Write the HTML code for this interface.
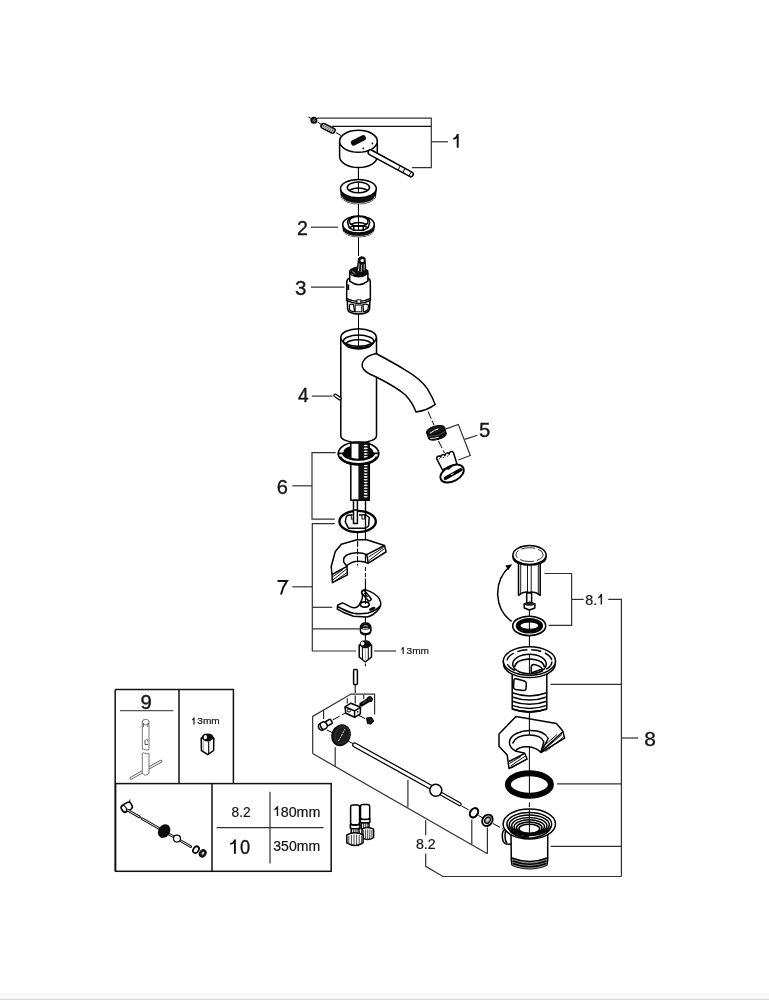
<!DOCTYPE html>
<html><head><meta charset="utf-8">
<style>
html,body{margin:0;padding:0;background:#fff;}
body{width:769px;height:1000px;overflow:hidden;position:relative;}
svg{position:absolute;left:0;top:0;}
.o{fill:#fff;stroke:#000;stroke-width:1.5;stroke-linejoin:round;}
.n{fill:none;stroke:#000;stroke-width:1.5;stroke-linejoin:round;}
.l{fill:none;stroke:#303030;stroke-width:1.2;}
.d{fill:none;stroke:#000;stroke-width:1;stroke-dasharray:8 2.5;}
.t{font-family:"Liberation Sans",sans-serif;fill:#151515;}
svg{will-change:transform;}
</style></head>
<body>
<svg width="769" height="1000" viewBox="0 0 769 1000">
<rect x="0" y="0" width="769" height="1000" fill="#fff"/>
<rect x="0" y="994" width="769" height="1" fill="#f5f5f5"/>
<rect x="0" y="998.6" width="769" height="1.4" fill="#dadada"/>

<!-- ============ PART 1: handle ============ -->
<g id="p1">
  <line class="d" x1="308.5" y1="117" x2="341" y2="135.5"/>
  <circle cx="313.9" cy="120.2" r="2.9" fill="#1a1a1a" stroke="#000" stroke-width="1.2"/>
  <path d="M312.6,121.5 L314.6,118.6 M314.2,122 L315.6,120" stroke="#ddd" stroke-width="0.6"/>
  <g transform="translate(328,128.3) rotate(26.5)">
    <rect x="-8.3" y="-3.3" width="16.6" height="6.6" rx="3.3" fill="#0d0d0d"/>
    <ellipse cx="-5.20" cy="0" rx="0.75" ry="1.75" transform="rotate(-12 -5.20 0)" stroke="#fff" stroke-width="0.7" fill="none"/><ellipse cx="-3.10" cy="0" rx="0.75" ry="1.75" transform="rotate(-12 -3.10 0)" stroke="#fff" stroke-width="0.7" fill="none"/><ellipse cx="-1.00" cy="0" rx="0.75" ry="1.75" transform="rotate(-12 -1.00 0)" stroke="#fff" stroke-width="0.7" fill="none"/><ellipse cx="1.10" cy="0" rx="0.75" ry="1.75" transform="rotate(-12 1.10 0)" stroke="#fff" stroke-width="0.7" fill="none"/><ellipse cx="3.20" cy="0" rx="0.75" ry="1.75" transform="rotate(-12 3.20 0)" stroke="#fff" stroke-width="0.7" fill="none"/><ellipse cx="5.30" cy="0" rx="0.75" ry="1.75" transform="rotate(-12 5.30 0)" stroke="#fff" stroke-width="0.7" fill="none"/>
  </g>
  <path class="o" d="M339.6,141.3 L339.6,156.6 A18.85,11 0 0 0 377.3,156.6 L377.3,141.3 Z"/>
  <ellipse class="o" cx="358.45" cy="141.3" rx="18.85" ry="11" stroke-width="1.9"/>
  <rect x="350.4" y="137.6" width="16" height="5.6" rx="2.2" transform="rotate(-27 358.4 140.4)" fill="#0d0d0d"/>
  <circle cx="372.4" cy="143.5" r="0.9" fill="#000"/>
  <circle cx="363.3" cy="148.4" r="0.9" fill="#000"/>
  <line x1="370.6" y1="152.4" x2="410.8" y2="174.3" stroke="#000" stroke-width="6.4" stroke-linecap="round"/>
  <line x1="370.6" y1="152.4" x2="410.8" y2="174.3" stroke="#fff" stroke-width="3.4" stroke-linecap="round"/>
  <line x1="399.8" y1="166.4" x2="398.2" y2="170.4" stroke="#000" stroke-width="1"/>
  <line x1="404.6" y1="168.8" x2="403" y2="172.8" stroke="#000" stroke-width="1"/>
  <path d="M411.5,171.5 Q409.5,174 409.3,177" stroke="#000" stroke-width="1" fill="none"/>
  <polyline class="l" points="317,118.1 431.3,118.1 431.3,167.7 412,167.7"/>
  <line x1="332.1" y1="126.4" x2="431.3" y2="126.4" stroke="#111" stroke-width="1.1"/>
  <line class="l" x1="431.3" y1="141.8" x2="448" y2="141.8"/>
  <path d="M457.7,133.9 V147.7 M453.3,138.9 C455.6,138.6 457.2,137.2 457.7,134.2" stroke="#111" stroke-width="1.95" fill="none"/>
</g>

<line x1="358.45" y1="167.9" x2="358.45" y2="181" stroke="#000" stroke-width="1.05"/>

<!-- ============ cover ring ============ -->
<g id="cover">
  <path d="M340.6,188.6 L341.2,195 A17.2,9.2 0 0 0 375.6,195 L376.2,188.6 Z" fill="#111" stroke="#000" stroke-width="1.2"/>
  <path d="M341.8,196.3 A16.6,7.2 0 0 0 375,196.3 M342.6,199 A15.8,5.6 0 0 0 374.2,199" stroke="#fff" stroke-width="0.7" fill="none"/>
  <ellipse class="o" cx="358.4" cy="188.6" rx="17.9" ry="9.2" stroke-width="1.9"/>
  <ellipse class="o" cx="358.4" cy="187.4" rx="11.1" ry="5.4" stroke-width="1.8"/>
  <path class="n" d="M349.6,190 Q358.4,185.8 367.3,190" stroke-width="1.3"/>
  <line x1="358.4" y1="182" x2="358.4" y2="193" stroke="#000" stroke-width="1"/>
</g>
<line x1="358.45" y1="204" x2="358.45" y2="216" stroke="#000" stroke-width="1.05"/>

<!-- ============ PART 2: nut ring ============ -->
<g id="p2">
  <path d="M342.8,224.5 L343.3,230 A15.3,7.4 0 0 0 373.8,230 L374.3,224.5 Z" fill="#111" stroke="#000" stroke-width="1.2"/>
  <path d="M343.8,231.5 A14.8,5.6 0 0 0 373.2,231.5 M344.5,233.6 A14,4.4 0 0 0 372.5,233.6" stroke="#fff" stroke-width="0.7" fill="none"/>
  <ellipse class="o" cx="358.5" cy="224.5" rx="15.75" ry="8.6" stroke-width="1.9"/>
  <path class="o" d="M347.6,222.5 L348.3,219.3 L352.5,216.6 L364.5,216.6 L369,219.3 L369.7,222.5 L368.2,227.6 L363.2,230.3 L353.8,230.3 L349.1,227.6 Z" stroke-width="1.3"/>
  <ellipse class="o" cx="358.7" cy="221.4" rx="9.4" ry="4.9" stroke-width="1.8"/>
  <path class="n" d="M350.4,224.6 Q358.6,220.6 367,224.6" stroke-width="1.4"/>
  <path class="n" d="M349.1,227.6 L353.8,225.8 L363.2,225.8 L368.2,227.6 M353.8,225.8 L353.8,230.3 M363.2,225.8 L363.2,230.3" stroke-width="0.9"/>
  <line x1="358.5" y1="216.5" x2="358.5" y2="231" stroke="#000" stroke-width="1"/>
  <line class="l" x1="311" y1="227.2" x2="338" y2="227.2"/>
  <text class="t" x="297" y="234.85" font-size="20.4" textLength="10.9" lengthAdjust="spacingAndGlyphs" stroke="#151515" stroke-width="0.35">2</text>
</g>
<line x1="358.5" y1="237.5" x2="358.5" y2="256" stroke="#000" stroke-width="1.05"/>

<!-- ============ PART 3: cartridge ============ -->
<g id="p3">
  <path class="o" d="M347.4,301 L347.6,309 Q348.5,313.8 358.5,314 Q368.5,313.8 369.6,309 L369.9,301 Z" stroke-width="1.8"/>
  <path d="M349.5,305 Q351,303.5 353.5,304.5 L354.5,311.5 Q351,312 349.5,309.5 Z" fill="#fff" stroke="#000" stroke-width="1.2"/>
  <path d="M363,304.5 Q366,303.5 368.5,305 L368,309.5 Q366,311.8 363.5,311.5 Z" fill="#fff" stroke="#000" stroke-width="1.2"/>
  <rect x="355.2" y="305" width="6.6" height="6.8" fill="#fff" stroke="#000" stroke-width="1"/>
  <path class="o" d="M349.6,278.2 Q346.9,278.6 346.8,282 L346.6,300.4 Q358.5,306.6 370.4,300.4 L370.3,282 Q370.2,278.6 367.9,278.2 Z" stroke-width="1.9"/>
  <path class="n" d="M346.8,298.6 Q358.5,304.2 370.3,298.6" stroke-width="1.4"/>
  <rect x="357" y="299.8" width="3.8" height="3.4" fill="#fff" stroke="#000" stroke-width="0.9"/>
  <rect x="347.3" y="284.5" width="1.9" height="5.5" fill="#000"/>
  <path class="o" d="M349.7,273.5 L349.7,281.2 Q358.7,288.2 367.9,281.2 L367.9,273.5 Z" stroke-width="2.1"/>
  <ellipse cx="358.7" cy="272" rx="10" ry="5.4" fill="#0d0d0d"/>
  <path d="M356.8,268.5 L358,258.3 Q361.8,254.6 365.6,258 L366.2,268.5 Z" fill="#0d0d0d"/>
  <ellipse cx="362.2" cy="260.4" rx="1.7" ry="1.5" fill="#fff"/>
  <path d="M359.2,263.5 L358.4,271 M361.7,264.5 L361.2,272 M364.3,264 L364,270.5 M352.3,271.2 L355.3,273.6 M351.5,274 L353,275" stroke="#fff" stroke-width="0.7"/>
  <line class="l" x1="311" y1="287.2" x2="344.5" y2="287.2"/>
  <text class="t" x="294.9" y="294.9" font-size="20.4" textLength="11.48" lengthAdjust="spacingAndGlyphs" stroke="#151515" stroke-width="0.35">3</text>
</g>
<line x1="358.5" y1="313.5" x2="358.5" y2="329" stroke="#000" stroke-width="1.05"/>

<!-- ============ PART 4: body + spout ============ -->
<g id="p4">
  <path class="o" d="M340.8,337.5 L340.8,436 A17.85,6.5 0 0 0 376.5,436 L376.5,337.5 Z" stroke-width="1.7"/>
  <ellipse class="o" cx="358.6" cy="337.5" rx="17.75" ry="8.8" stroke-width="2"/>
  <ellipse class="n" cx="358.6" cy="341.4" rx="15.3" ry="6.3" stroke-width="2.4"/>
  <ellipse class="n" cx="358.6" cy="344.3" rx="12.6" ry="4.6" stroke-width="1.5"/>
  <line x1="358.5" y1="329" x2="358.5" y2="349" stroke="#000" stroke-width="1"/>
  <path class="o" stroke-width="1.7" d="M376.1,353.5 C390,361 398,365.5 404.2,369.3 C415,375.5 423,382 427.6,389.2 C431,395 433.5,400 435.2,404.4 C430,408.5 423,411 416,412 C413.5,405 410,400 405.5,395 C398,388.5 390,384 377.2,377.5 C372,375 368,373.5 366,371.6 C362,368.5 361.5,364.5 363,361.5 C365,357.5 369.5,355 376.1,353.5 Z"/>
  <line class="d" x1="428" y1="411.5" x2="434" y2="425"/>
  <path d="M335.2,395.4 L339.8,398.6" stroke="#000" stroke-width="3.8" stroke-linecap="round"/>
  <path d="M335.2,395.4 L339.8,398.6" stroke="#fff" stroke-width="1.4" stroke-linecap="round"/>
  <line class="l" x1="311.8" y1="396.1" x2="332.5" y2="396.1"/>
  <text class="t" x="297.9" y="402" font-size="20.4" textLength="10.65" lengthAdjust="spacingAndGlyphs" stroke="#151515" stroke-width="0.35">4</text>
</g>

<!-- ============ PART 5: aerator ============ -->
<g id="p5">
  <g transform="translate(436.5,433) rotate(-16)">
    <path d="M-9.4,-3 L-9.2,3.2 A9.3,3.8 0 0 0 9.3,3.2 L9.4,-3 Z" fill="#0d0d0d" stroke="#000" stroke-width="1"/>
    <ellipse cx="0" cy="-3" rx="9.4" ry="4" fill="#1a1a1a" stroke="#000" stroke-width="1"/>
    <path d="M-6.5,-1.5 Q-1,-3.5 3,-3.5" stroke="#fff" stroke-width="0.9" fill="none"/>
    <path d="M-7.5,3.5 Q-3,5 1,4.6" stroke="#fff" stroke-width="0.8" fill="none"/>
    <path d="M-8.5,1 Q0,4 8.5,1" stroke="#777" stroke-width="0.6" fill="none"/>
  </g>
  <line class="d" x1="438.5" y1="441" x2="444.5" y2="453"/>
  <path class="o" d="M436.6,458.6 a2.3,2.3 0 0 1 4.2,-1.5 a2.3,2.3 0 0 1 4.2,-1.5 a2.3,2.3 0 0 1 4.2,-1.5 a2.3,2.3 0 0 1 4.2,-1.5 L457,464 L442.5,470 Z" stroke-width="1.6"/>
  <path d="M439,459.5 l0.6,-1.2 M443.3,458 l0.6,-1.2 M447.5,456.5 l0.6,-1.2" stroke="#000" stroke-width="0.9"/>
  <ellipse cx="452.1" cy="473.6" rx="12.6" ry="7.6" transform="rotate(-28 452.1 473.6)" fill="#fff" stroke="#000" stroke-width="1.9"/>
  <path d="M445.5,478.3 L460.6,469.8" stroke="#000" stroke-width="3.6" stroke-linecap="round"/>
  <path d="M451,474.8 L453.5,473.5" stroke="#fff" stroke-width="1"/>
  <path class="n" d="M442.5,470 Q446,467.5 448.5,469 Q452,465 456.5,464.2" stroke-width="1.1"/>
  <polyline class="l" points="445.9,428.9 458.3,424.4 470.3,455.5 458.3,460"/>
  <line class="l" x1="464.6" y1="439.4" x2="477.5" y2="435.3"/>
  <text class="t" x="479" y="437" font-size="20.4" textLength="11.33" lengthAdjust="spacingAndGlyphs" stroke="#151515" stroke-width="0.35">5</text>
</g>

<!-- ============ PART 6: flange + threaded rod ============ -->
<g id="p6">
  <ellipse class="o" cx="358.5" cy="453.4" rx="20.2" ry="11.5" stroke-width="1.8"/>
  <ellipse cx="358.4" cy="452.2" rx="14.9" ry="7.3" fill="#000"/>
  <rect class="o" x="350.8" y="443" width="18.5" height="57.3" stroke-width="1.5"/>
  <rect x="358.4" y="443" width="10.6" height="57.3" fill="#111"/>
  <g><ellipse cx="365.7" cy="445.5" rx="2.1" ry="0.8" fill="#fff"/><ellipse cx="365.7" cy="448.4" rx="2.1" ry="0.8" fill="#fff"/><ellipse cx="365.7" cy="451.2" rx="2.1" ry="0.8" fill="#fff"/><ellipse cx="365.7" cy="454.1" rx="2.1" ry="0.8" fill="#fff"/><ellipse cx="365.7" cy="456.9" rx="2.1" ry="0.8" fill="#fff"/><ellipse cx="365.7" cy="459.8" rx="2.1" ry="0.8" fill="#fff"/><ellipse cx="365.7" cy="462.6" rx="2.1" ry="0.8" fill="#fff"/><ellipse cx="365.7" cy="465.4" rx="2.1" ry="0.8" fill="#fff"/><ellipse cx="365.7" cy="468.3" rx="2.1" ry="0.8" fill="#fff"/><ellipse cx="365.7" cy="471.1" rx="2.1" ry="0.8" fill="#fff"/><ellipse cx="365.7" cy="474.0" rx="2.1" ry="0.8" fill="#fff"/><ellipse cx="365.7" cy="476.9" rx="2.1" ry="0.8" fill="#fff"/><ellipse cx="365.7" cy="479.7" rx="2.1" ry="0.8" fill="#fff"/><ellipse cx="365.7" cy="482.6" rx="2.1" ry="0.8" fill="#fff"/><ellipse cx="365.7" cy="485.4" rx="2.1" ry="0.8" fill="#fff"/><ellipse cx="365.7" cy="488.2" rx="2.1" ry="0.8" fill="#fff"/><ellipse cx="365.7" cy="491.1" rx="2.1" ry="0.8" fill="#fff"/><ellipse cx="365.7" cy="493.9" rx="2.1" ry="0.8" fill="#fff"/><ellipse cx="365.7" cy="496.8" rx="2.1" ry="0.8" fill="#fff"/></g>
  <path d="M338.3,453.4 A20.2,11.5 0 0 0 378.7,453.4 L374.5,453.4 A16.3,8.2 0 0 1 342.5,453.4 Z" fill="#fff" stroke="#000" stroke-width="1.6"/>
  <path class="n" d="M340.5,456.5 A18.2,8.5 0 0 0 376.5,456.5" stroke-width="1.3"/>
  <path class="n" d="M343.5,452.2 A14.9,7.3 0 0 0 373.3,452.2" stroke-width="1.3"/>
  <rect class="o" x="353.5" y="500.3" width="3.9" height="23.3" stroke-width="1.3"/>
  <line x1="365.5" y1="500" x2="365.5" y2="512" stroke="#000" stroke-width="1.4"/>
  <polyline class="l" points="335.7,452.7 312,452.7 312,519.1 334.7,519.1"/>
  <line class="l" x1="292.3" y1="485.8" x2="312" y2="485.8"/>
  <text class="t" x="276.7" y="493.9" font-size="20.4" textLength="11.17" lengthAdjust="spacingAndGlyphs" stroke="#151515" stroke-width="0.35">6</text>
</g>

<!-- lower clamp ring -->
<g id="ring6">
  <ellipse cx="357.6" cy="521.5" rx="18.2" ry="10.6" fill="#fff" stroke="#000" stroke-width="2.4"/>
  <path class="n" d="M346,517.5 L347.5,515.2 L352,515 M359,515 L366,515 L369.3,517.5 L368.5,526 L366,528 M346,517.5 L345.3,522 L348.5,528.2 L366,528.3" stroke-width="1.1"/>
  <rect x="351.3" y="515" width="2.5" height="4" fill="#fff" stroke="#000" stroke-width="0.9"/>
  <rect x="362" y="515" width="2.8" height="4" fill="#fff" stroke="#000" stroke-width="0.9"/>
  <rect class="o" x="353.5" y="510" width="3.9" height="13.6" stroke-width="1.3"/>
  <line x1="365.5" y1="510" x2="365.5" y2="531" stroke="#000" stroke-width="1.3"/>
</g>
<!-- ============ PART 7 ============ -->
<g id="p7">
  <line x1="357.5" y1="532.5" x2="357.5" y2="540" stroke="#000" stroke-width="1.05"/>
  <line x1="365.4" y1="531" x2="365.4" y2="562.5" stroke="#000" stroke-width="1.05"/>
  <path class="o" stroke-width="1.1" d="M341.3,544.3 L357,539.8 L366.7,539.8 L384.5,545.5 L386.1,551.9 L368.3,563.2 L366.7,554.6 C362,552 352,551.8 346.5,555.2 C343,557.5 343,561.5 344.5,563.2 L347,566.3 L347.4,574.9 L332.4,582.6 L332,574.5 L331.2,566.5 L335.3,551.5 Z"/>
  <path class="n" d="M347,565.3 C350,563 354,561.2 357.8,561.2 C362,561 365.5,562 368.3,563.2" stroke-width="1.2"/>
  <path class="n" d="M366.7,554.6 L384.5,545.5 M332,574.5 L347,566.3" stroke-width="1.2"/>
  <path d="M369,560.5 L384,549 M368.5,557 L383.5,547.5 M372,561 L385.5,552 M333,580 L346.5,569 M334.5,581.5 L347,572.5 M333,576.5 L343,569.5" stroke="#000" stroke-width="0.9"/>
  <line x1="357.8" y1="540.5" x2="357.8" y2="546" stroke="#888" stroke-width="1"/>
  <line x1="357.5" y1="541" x2="357.5" y2="565.5" stroke="#000" stroke-width="1" stroke-dasharray="6 1.6"/>
  
  <line x1="365.4" y1="567" x2="365.4" y2="577" stroke="#000" stroke-width="1" stroke-dasharray="4 2"/>
  <line x1="365.4" y1="578.4" x2="365.4" y2="590" stroke="#000" stroke-width="1.05"/>
  <!-- C clamp -->
  <path class="o" stroke-width="1.3" d="M337.6,605.2 L342.5,602.9 C347,604.5 350,607.6 353.5,607.8 C356.5,608 358.8,606.5 360,603.2 C361.5,600.5 363.5,598 362.2,594.5 C361,592 361.5,590 365.2,589.6 C371,591.5 377.5,595 379.5,599.3 C381.3,603 381,606 379.5,608 C377.5,611 375.5,613 373,614.5 C370,616.3 368,616.9 366.5,616.9 L353.5,616.2 C348,614.5 342,612 337.3,609.1 Z"/>
  <path class="n" d="M337.5,606.5 C343,609.5 348,612 353.5,613.3 C358,614 364,613.8 368,613 C373,611.5 378,609 380.5,605.5" stroke-width="1.1"/>
  <ellipse cx="364.8" cy="604.5" rx="4.4" ry="2.6" fill="#fff" stroke="#000" stroke-width="1.6"/>
  <rect x="360.2" y="594" width="12.4" height="3.6" rx="1.8" transform="rotate(50 366.4 595.8)" fill="#fff" stroke="#000" stroke-width="1.5"/>
  <path d="M364.2,592.8 L367.5,597.2" stroke="#000" stroke-width="1.2"/>
  <ellipse cx="372.2" cy="608.8" rx="3.4" ry="1.5" transform="rotate(-22 372.2 608.8)" fill="#0d0d0d"/>
  <line x1="365.5" y1="586" x2="365.5" y2="604" stroke="#000" stroke-width="1"/>
  <line x1="365.4" y1="617" x2="365.4" y2="623" stroke="#000" stroke-width="1.05"/>
  <!-- small nut -->
  <path d="M360.4,628 Q360.6,623 365.6,623 Q370.6,623 370.9,628 L370.9,630.5 Q370.5,634.7 365.6,634.7 Q360.6,634.7 360.4,630.5 Z" fill="#fff" stroke="#000" stroke-width="1.6"/>
  <path d="M360.6,628.5 Q360.8,623.4 365.6,623.4 Q370.4,623.4 370.7,628.5 Q365.6,631 360.6,628.5 Z" fill="#0d0d0d"/>
  <path d="M363.5,626.2 Q365.6,625.2 367.7,626.2 M362.8,628.3 Q365.6,629.3 368.4,628.3" stroke="#fff" stroke-width="0.8" fill="none"/>
  <path d="M361,632 Q365.6,635.5 370.3,632" stroke="#000" stroke-width="1.4" fill="none"/>
  <line x1="365.4" y1="634.5" x2="365.4" y2="640.5" stroke="#000" stroke-width="1.05"/>
  <!-- hex 13mm -->
  <path class="o" d="M359.2,645 L359.2,657 L365.3,662 L371.5,657 L371.5,645 Z" stroke-width="1.7"/>
  <path d="M359.5,645.5 Q359.6,640.3 365.3,640.2 Q371.2,640.3 371.3,645.5 Q368.5,648.5 365.3,648.2 Q362,648.5 359.5,645.5 Z" fill="#0d0d0d"/>
  <ellipse cx="362.6" cy="643.6" rx="1.8" ry="2" fill="#fff"/>
  <path d="M362.4,647.5 v12 M368.3,647.5 v12" stroke="#000" stroke-width="1"/>
  <path d="M365.3,648.5 v13" stroke="#999" stroke-width="0.8"/>
  <line x1="365.4" y1="663.5" x2="365.4" y2="666.2" stroke="#000" stroke-width="1.05"/>
  <polyline class="l" points="334.8,523.7 312.3,523.7 312.3,651 356,651"/>
  <line class="l" x1="312.3" y1="607.3" x2="332.3" y2="607.3"/>
  <line class="l" x1="312.3" y1="628.8" x2="359.6" y2="628.8"/>
  <line class="l" x1="292.3" y1="586.8" x2="312.3" y2="586.8"/>
  <line class="l" x1="374.2" y1="651" x2="396" y2="651"/>
  <path d="M403.20,647.00 V653.90 M401.40,649.48 C402.30,649.14 403.02,647.69 403.20,647.14" stroke="#151515" stroke-width="1.15" fill="none"/><text class="t" x="406.6" y="653.9" font-size="9.2" textLength="22.43" lengthAdjust="spacingAndGlyphs" stroke="#151515" stroke-width="0.2">3mm</text>
  <path d="M277.6,581 H287 C284.2,584.8 282.2,589.3 281,594.4" stroke="#111" stroke-width="2" fill="none"/>
</g>

<!-- ============ 8.2 rod assembly ============ -->
<g id="p82">
  <rect class="o" x="353.6" y="669.4" width="3.8" height="15.2" rx="1" stroke-width="1.2"/>
  <line class="d" x1="355.2" y1="685" x2="355.2" y2="705"/>
  <polyline class="l" points="312.7,753.6 312.7,716.4 351,694.1 374.6,694.1 374.6,714.6"/>
  <line class="l" x1="323.6" y1="710.5" x2="323.6" y2="719.1"/>
  <line class="l" x1="347.3" y1="698.2" x2="347.3" y2="703.6"/>
  <line class="l" x1="363.7" y1="695" x2="363.7" y2="699.1"/>
  <line class="d" x1="332.7" y1="720" x2="345" y2="713.2"/>
  <line class="d" x1="358" y1="715" x2="367" y2="719.5"/>
  <line class="d" x1="359.5" y1="705.5" x2="361.5" y2="704.5"/>
  <!-- block -->
  <path class="o" d="M345,706.8 L350.9,703.2 L360.5,707.3 L360.3,713.8 L354.6,717.3 L345.8,713.2 Z" stroke-width="1.5"/>
  <path class="n" d="M345,706.8 L354.6,710.9 L360.5,707.3 M354.6,710.9 L354.6,717.3" stroke-width="1.1"/>
  <ellipse cx="349" cy="710.5" rx="1.8" ry="1.5" fill="none" stroke="#000" stroke-width="1"/>
  <circle cx="357.7" cy="711.8" r="0.9" fill="#000"/>
  <!-- screw top right -->
  <line x1="361.5" y1="704.3" x2="369.5" y2="699.3" stroke="#000" stroke-width="4.4" stroke-linecap="round"/>
  <path d="M363,703.8 l1,-2.2 M364.8,702.6 l1,-2.2 M366.6,701.5 l1,-2.2" stroke="#888" stroke-width="0.7"/>
  <circle cx="369.8" cy="699.2" r="2.6" fill="#222" stroke="#000"/>
  <path d="M366.5,718 L371.5,717.3 L373.7,721 L371,724.1 L367.5,723.5 Z" fill="#1a1a1a" stroke="#000" stroke-width="1"/>
  <!-- pin -->
  <g transform="translate(325.3,724.6) rotate(-30)">
    <rect class="o" x="-7.3" y="-3.6" width="9" height="7.2" rx="3.4" stroke-width="1.3"/>
    <rect class="o" x="1.5" y="-2.4" width="5.6" height="4.8" rx="1" stroke-width="1.2"/>
    <path class="n" d="M-4,-3.4 Q-6,0 -4,3.4" stroke-width="1"/>
  </g>
  <line class="d" x1="327" y1="730" x2="332" y2="732.5"/>
  <!-- knurled wheel -->
  <ellipse cx="341" cy="735.3" rx="9" ry="10.6" transform="rotate(25 341 735.3)" fill="#1c1c1c" stroke="#000" stroke-width="1.2"/>
  <ellipse cx="342.2" cy="734.8" rx="6.8" ry="8.6" transform="rotate(25 342.2 734.8)" fill="none" stroke="#444" stroke-width="1" stroke-dasharray="1 0.8"/>
  <line x1="338.5" y1="741" x2="345" y2="729" stroke="#eee" stroke-width="0.9" stroke-dasharray="2 1"/>
  <line class="l" x1="335.2" y1="747.3" x2="335.2" y2="766.3"/>
  <!-- rod -->
  <line x1="354.8" y1="745" x2="430.5" y2="787" stroke="#000" stroke-width="5.2" stroke-linecap="round"/>
  <line x1="354.8" y1="745" x2="430.5" y2="787" stroke="#fff" stroke-width="2.7" stroke-linecap="round"/>
  <line class="d" x1="348" y1="741" x2="353" y2="743.6"/>
  <line x1="438" y1="792" x2="459.8" y2="804.3" stroke="#000" stroke-width="4" stroke-linecap="round"/>
  <line x1="438" y1="792" x2="459.8" y2="804.3" stroke="#fff" stroke-width="1.7" stroke-linecap="round"/>
  <circle class="o" cx="435.8" cy="790.3" r="6" stroke-width="1.5"/>
  <line class="d" x1="461.5" y1="806" x2="468.5" y2="809.8"/>
  <ellipse cx="474" cy="812.8" rx="3.7" ry="5" transform="rotate(35 474 812.8)" fill="none" stroke="#000" stroke-width="2.1"/>
  <line class="d" x1="478.5" y1="815.5" x2="483" y2="818"/>
  <ellipse cx="487.4" cy="820.3" rx="4.9" ry="6" transform="rotate(35 487.4 820.3)" fill="#fff" stroke="#000" stroke-width="1.9"/>
  <ellipse cx="487.6" cy="820.2" rx="2.6" ry="3.5" transform="rotate(35 487.6 820.2)" fill="#888" stroke="#000" stroke-width="1.2"/>
  <ellipse cx="487.7" cy="820.1" rx="0.9" ry="1.6" transform="rotate(35 487.7 820.1)" fill="#fff"/>
  <line class="d" x1="493" y1="823.5" x2="503" y2="829"/>
  <!-- bracket lines -->
  <line class="l" x1="312.7" y1="753.6" x2="487.4" y2="853.8"/>
  <line class="l" x1="407.9" y1="779.8" x2="407.9" y2="807.5"/>
  <line class="l" x1="471.8" y1="819.5" x2="471.8" y2="844.5"/>
  <line class="l" x1="487.4" y1="827.5" x2="487.4" y2="853.8"/>
  <polyline class="l" points="425.7,820.3 425.7,835.2"/>
  <polyline class="l" points="425.7,853.6 425.7,866.3 442.9,876.5 621.4,876.5"/>
  <text class="t" x="415.9" y="849.2" font-size="14" textLength="19.68" lengthAdjust="spacingAndGlyphs" stroke="#151515" stroke-width="0.2">8.2</text>
</g>

<!-- hoses -->
<g id="hoses">
  <rect class="o" x="360.5" y="804.4" width="9.2" height="15" rx="2.2" stroke-width="1.5"/>
  <path class="o" d="M360.3,818.6 Q365,820.6 369.9,818.6 L369.9,822.2 Q365,824.2 360.3,822.2 Z" stroke-width="1.4"/>
  <path class="o" d="M361.2,823 L361.2,829 L369,829 L369,823 Z" stroke-width="1.2"/>
  <path d="M363.4,823.5 v5.5 M365.3,823.8 v5.5 M367.2,823.5 v5.5" stroke="#000" stroke-width="0.8"/>
  <path class="o" d="M362,829.2 Q367.7,826 373.6,829.2 L373.6,837.5 Q367.7,841.6 362,837.5 Z" stroke-width="1.9"/>
  <path d="M363.6,830 v8.5 M365.6,829.6 v9.8 M367.7,829.4 v10.4 M369.8,829.6 v9.8 M371.9,830 v8.5" stroke="#333" stroke-width="0.9"/>
  <rect class="o" x="350.6" y="805.1" width="9" height="19.7" rx="2.2" stroke-width="1.5"/>
  <path class="o" d="M350.3,824.2 Q355.1,826.2 359.9,824.2 L359.9,828 Q355.1,830 350.3,828 Z" stroke-width="1.4"/>
  <path class="o" d="M351.2,828.8 L351.2,834.5 L359,834.5 L359,828.8 Z" stroke-width="1.2"/>
  <path d="M353.4,829.3 v5 M355.2,829.6 v5 M357.1,829.3 v5" stroke="#000" stroke-width="0.8"/>
  <path class="o" d="M346.8,834.8 Q355,830.5 363.1,834.8 L363.1,842.8 Q355,848 346.8,842.8 Z" stroke-width="1.9"/>
  <path d="M348.8,835.6 v8.6 M351.4,835 v10 M354,834.6 v10.8 M356.6,834.6 v10.8 M359.2,835 v10 M361.6,835.6 v8.6" stroke="#333" stroke-width="0.9"/>
</g>

<!-- ============ PART 8 group ============ -->
<g id="p8">
  <!-- arrow arc -->
  <path class="n" d="M511.6,621.4 C494.5,609 492,582 510.5,565.5" stroke="#222" stroke-width="0.95"/>
  <path d="M512.2,564.2 L505.2,565.6 L508.4,570 Z" fill="#000"/>
  <!-- plug -->
  <path class="o" d="M518.5,563 L518.5,595.3 Q524,591 529,592.5 Q534.5,591 540.2,595.3 L540.2,563 Z" stroke-width="1.5"/>
  <path d="M520.7,564 v30 M527.5,564 v28.5 M531.2,564 v28.5 M538.3,564 v30" stroke="#000" stroke-width="0.9"/>
  <path class="o" d="M512.9,555.5 L513.2,558.5 A16.4,7.4 0 0 0 545.8,558.5 L546.1,555.5 Z" stroke-width="2"/>
  <ellipse class="o" cx="529.5" cy="555" rx="16.6" ry="9.4" stroke-width="1.7"/>
  <ellipse cx="529.5" cy="554.6" rx="13.6" ry="6.9" fill="none" stroke="#000" stroke-width="0.8" stroke-dasharray="9 3 14 3"/>
  <rect class="o" x="526.7" y="593" width="4.9" height="10" stroke-width="1.2"/>
  <path class="o" d="M524.1,604 L524.3,608 L529.5,610 L534.8,608 L535,604 L529.5,602.2 Z" stroke-width="1.4"/>
  <ellipse cx="529.5" cy="604" rx="5" ry="1.8" fill="#222"/>
  <line x1="529.4" y1="610" x2="529.4" y2="617" stroke="#000" stroke-width="1.05"/>
  <!-- ring -->
  <ellipse cx="529.2" cy="625.9" rx="16.5" ry="9.7" fill="#fff" stroke="#000" stroke-width="1.6"/>
  <ellipse cx="529.4" cy="625.8" rx="11.6" ry="5.7" fill="none" stroke="#000" stroke-width="4.2"/>
  <ellipse cx="529.4" cy="625.7" rx="9.5" ry="3.7" fill="#fff" stroke="#000" stroke-width="1.1"/>
  <line x1="529.4" y1="621" x2="529.4" y2="630" stroke="#000" stroke-width="1"/>
  <polyline class="l" points="544.5,573.5 571.6,573.5 571.6,625.4 548.7,625.4"/>
  <line class="l" x1="571.6" y1="599.4" x2="583.7" y2="599.4"/>
  <polyline class="l" points="608.2,599.4 621.4,599.4 621.4,876.5"/>
  <text class="t" x="585.2" y="604.8" font-size="14.5" textLength="11.91" lengthAdjust="spacingAndGlyphs" stroke="#151515" stroke-width="0.2">8.</text><path d="M601.35,594.10 V604.60 M598.30,597.88 C599.83,597.36 601.05,595.15 601.35,594.31" stroke="#151515" stroke-width="1.45" fill="none"/>
  <line x1="529.4" y1="635.5" x2="529.4" y2="647" stroke="#000" stroke-width="1.05"/>

  <!-- upper drain body -->
  <path class="o" d="M512.2,670 L512.2,709 Q529.5,715 546.8,709 L546.8,670 Z" stroke-width="1.6"/>
  <path class="n" d="M512.2,692.8 Q529.5,699 546.8,692.8 M512.2,697 Q529.5,703.2 546.8,697 M512.2,701.2 Q529.5,707.4 546.8,701.2 M512.2,705.4 Q529.5,711.6 546.8,705.4" stroke-width="0.9"/>
  <path d="M512.2,709 Q529.5,715 546.8,709" stroke="#000" stroke-width="1.8" fill="none"/>
  <path class="o" d="M514,680 Q514,678.5 516,678.8 L524.5,681 Q526.5,681.8 526.3,684 L526,689 Q525.6,690.8 523.5,690.5 L515.5,689.5 Q513.5,689 513.5,687 Z" stroke-width="1.6"/>
  <path class="o" d="M503.3,661 L503.6,664 A25.8,13.6 0 0 0 555.2,664 L555.5,661 Z" stroke-width="1.8"/>
  <ellipse class="o" cx="529.4" cy="661" rx="26.1" ry="14.2" stroke-width="1.8"/>
  <ellipse class="n" cx="529.4" cy="661.5" rx="22.5" ry="11.7" stroke-width="0.7" stroke-dasharray="10 4"/>
  <ellipse class="o" cx="529.5" cy="664" rx="16.8" ry="9.8" stroke-width="1.6"/>
  <path class="n" d="M514.5,667 Q516,659.5 529.5,659 Q543,659.5 544.5,667" stroke-width="1.2"/>
  <path class="o" d="M531.2,673 L531.2,667 Q531.5,664.5 534,664.6 Q540,665.5 542.2,669 Z" stroke-width="1.5"/>
  <line x1="529.4" y1="654" x2="529.4" y2="673.8" stroke="#000" stroke-width="1"/>
  <line class="l" x1="550.4" y1="684.4" x2="621.4" y2="684.4"/>
  <line x1="529.4" y1="712.5" x2="529.4" y2="725" stroke="#000" stroke-width="1.05"/>

  <!-- countertop 2 -->
  <path class="o" stroke-width="1.1" d="M516,716.4 L556.4,723.5 L562.8,731.1 L564.6,738.1 L541,752.6 L541.2,751.5 L548.2,738.5 C545,732 537,730.3 529.5,730.5 C520,730.7 512,734.5 509.8,740 C508.5,745 511,748.5 515.5,751 L524.8,753.3 L527.1,759.2 L509,768.5 L507.2,755.1 L499,746.3 L499,734 Z"/>
  <path class="n" d="M512.5,743.5 C515,737 522,735 529.5,735 C537,735 542,737.5 543.8,741.8 L541.2,751.5 M515.5,751 C518,747.5 523,746.5 528,746.8 C533,747 537,748.5 541,752.6" stroke-width="1.2"/>
  <path class="n" d="M541.2,751.5 L562.8,731.7 M509,761.5 L524.8,753.3" stroke-width="1.2"/>
  <path d="M543,750.5 L562,734.5 M545.5,751.5 L563.5,737 M541.5,748 L557,734.5 M510.5,766 L525.5,756 M511.5,768 L526.5,759 M509.5,763.5 L521,756.5" stroke="#000" stroke-width="0.9"/>
  <line x1="529.4" y1="717" x2="529.4" y2="735" stroke="#000" stroke-width="1.05"/>
  <line x1="529.4" y1="746" x2="529.4" y2="772" stroke="#000" stroke-width="1"/>

  <!-- O ring -->
  <ellipse cx="529.4" cy="784.5" rx="21.5" ry="11.2" fill="none" stroke="#000" stroke-width="6"/>
  <line x1="529.4" y1="776" x2="529.4" y2="793" stroke="#000" stroke-width="1"/>
  <line class="l" x1="557" y1="783.9" x2="621.4" y2="783.9"/>
  <line x1="529.4" y1="802.5" x2="529.4" y2="807" stroke="#000" stroke-width="1.05"/>

  <!-- lower drain body -->
  <path class="o" d="M511.5,829.5 L506,829 C503.5,829.5 502.2,832.5 502.3,836.3 C502.4,840.5 504,843.8 506.5,844 L512,844.2 Z" stroke-width="1.8"/>
  <path class="n" d="M506.2,829.6 C504.6,832 504.3,840 507,843.6" stroke-width="1.4"/>
  <path class="o" d="M511,834 L511.3,860 L512,865 Q529.5,872.5 547,865 L547.7,860 L547.7,834 Z" stroke-width="1.8"/>
  <path d="M512,858 Q529.5,865 547,858 L547,865 Q529.5,872.5 512,865 Z" fill="#8a8a8a"/>
  <path class="n" d="M512.5,861 Q529.5,867.5 546.5,861 M512.5,863.5 Q529.5,870 546.5,863.5" stroke="#888" stroke-width="0.7"/>
  <path class="n" d="M512,858 Q529.5,865 547,858" stroke-width="1.4"/>
  <ellipse class="o" cx="529.3" cy="824" rx="26.2" ry="15" stroke-width="1.9"/>
  <ellipse class="n" cx="529.3" cy="824" rx="22.4" ry="11.4" stroke-width="1.6"/>
  <ellipse class="n" cx="529.3" cy="824.8" rx="20" ry="9.8" stroke-width="0.8"/>
  <ellipse class="n" cx="529.3" cy="825.8" rx="17.6" ry="8.4" stroke-width="0.8"/>
  <ellipse class="n" cx="529.3" cy="826.8" rx="15.2" ry="7" stroke-width="0.8"/>
  <ellipse class="n" cx="529.3" cy="827.8" rx="12.8" ry="5.8" stroke-width="0.8"/>
  <ellipse class="n" cx="529.3" cy="828.8" rx="10.4" ry="4.6" stroke-width="0.8"/>
  <path class="n" d="M507.5,826 Q510,836.5 529.3,838.3 Q548.5,836.5 551.2,826" stroke-width="2.2"/>
  <path class="n" d="M509,829 Q513,836 529.3,837" stroke="#555" stroke-width="1.5"/>
  <line x1="529.4" y1="810" x2="529.4" y2="834" stroke="#000" stroke-width="1"/>
  <line class="l" x1="550.8" y1="846.4" x2="621.4" y2="846.4"/>
  <line class="l" x1="622" y1="738" x2="638.1" y2="738"/>
  <text class="t" x="644.3" y="745.7" font-size="20.4" textLength="11.6" lengthAdjust="spacingAndGlyphs" stroke="#151515" stroke-width="0.35">8</text>
</g>
<!-- ============ Box 9 / 10 ============ -->
<g id="boxes">
  <path d="M115.2,689.5 H233.4 V783.5 M179,689.5 V783.5 M115.2,689.5 V871.3" fill="none" stroke="#111" stroke-width="1.5"/>
  <rect x="115.6" y="783.6" width="215.6" height="87.7" fill="none" stroke="#111" stroke-width="1.5"/>
  <line x1="212" y1="783.6" x2="212" y2="871.3" stroke="#111" stroke-width="1.5"/>
  <line x1="119.9" y1="710.6" x2="173.3" y2="710.6" stroke="#555" stroke-width="1.4"/>
  <text class="t" x="140.4" y="708.5" font-size="20.4" textLength="11.33" lengthAdjust="spacingAndGlyphs" stroke="#151515" stroke-width="0.35">9</text>
  <path d="M194.00,717.50 V724.40 M192.20,719.98 C193.10,719.64 193.82,718.19 194.00,717.64" stroke="#151515" stroke-width="1.15" fill="none"/><text class="t" x="197.3" y="724.4" font-size="9.2" textLength="22.4" lengthAdjust="spacingAndGlyphs" stroke="#151515" stroke-width="0.2">3mm</text>
  <!-- T wrench -->
  <g stroke="#666" stroke-width="0.9" fill="#fff">
    <line x1="131" y1="778.3" x2="160.8" y2="761.2" stroke="#666" stroke-width="3" stroke-linecap="round"/>
    <line x1="131" y1="778.3" x2="160.8" y2="761.2" stroke="#fff" stroke-width="1.2" stroke-linecap="round"/>
    <path d="M142.3,722 L142.3,749.4 Q143.5,748.4 145,749.6 Q146.8,750.8 149,749.4 L149,722 Z"/>
    <path d="M142.3,753.2 Q143.5,752.2 145,753.4 Q146.8,754.6 149,753.2 L149,773 Q145.6,777.5 142.3,773 Z"/>
    <rect x="142.3" y="719.4" width="6.7" height="5.5" rx="2.8"/>
    <path d="M143.5,723 L143.5,727 M147.8,723 L147.8,727" fill="none"/>
    <path d="M145,740 L145,744.5 L148,744.5 M147,739 L147.5,741" fill="none" stroke="#444"/>
  </g>
  <!-- nut -->
  <path class="o" d="M201.2,738 L201.4,750.5 L207.8,754.6 L213.6,750.5 L213.8,738 Z" stroke-width="1.8"/>
  <path d="M201.4,738.6 Q201.6,733.5 207.6,733.5 Q213.6,733.5 213.7,738.6 Q210.6,741.6 207.6,741.4 Q204.4,741.6 201.4,738.6 Z" fill="#0d0d0d"/>
  <path d="M204,739.2 Q203.3,735.5 205.5,735 Q207.4,735 206.8,738.8 Z" fill="#fff"/>
  <path d="M208.7,741.3 V754" stroke="#000" stroke-width="1.1"/>
  <path d="M203.2,740.5 V751.5" stroke="#777" stroke-width="0.8"/>
  <!-- rod in box 10 -->
  <g transform="translate(128,806.5) rotate(-30)">
    <rect x="-7" y="-3.8" width="11" height="7.6" rx="3" fill="#fff" stroke="#000" stroke-width="1.5"/>
    <ellipse cx="-4.5" cy="0" rx="2.2" ry="3.4" fill="none" stroke="#000" stroke-width="1"/>
  </g>
  <line x1="129.8" y1="799.5" x2="129.8" y2="802.5" stroke="#000" stroke-width="0.9"/>
  <line x1="127" y1="809.8" x2="139.5" y2="817" stroke="#000" stroke-width="2.6" stroke-linecap="round"/>
  <line x1="127" y1="809.8" x2="139.5" y2="817" stroke="#fff" stroke-width="0.9"/>
  <line x1="142" y1="818.6" x2="190.8" y2="846.6" stroke="#000" stroke-width="2.6" stroke-linecap="round"/>
  <line x1="142" y1="818.6" x2="190.8" y2="846.6" stroke="#fff" stroke-width="0.9"/>
  <ellipse cx="164.1" cy="831.1" rx="5.8" ry="7.2" transform="rotate(35 164.1 831.1)" fill="#0d0d0d"/>
  <circle cx="177" cy="838.6" r="3.5" fill="#fff" stroke="#000" stroke-width="1.2"/>
  <ellipse cx="196" cy="849.7" rx="2.6" ry="3.6" transform="rotate(35 196 849.7)" fill="#fff" stroke="#000" stroke-width="1.7"/>
  <ellipse cx="202.7" cy="853.4" rx="3" ry="3.8" transform="rotate(35 202.7 853.4)" fill="#222" stroke="#000" stroke-width="1.2"/>
  <ellipse cx="202.9" cy="853.3" rx="1" ry="1.6" transform="rotate(35 202.9 853.3)" fill="#ddd"/>
  <!-- table -->
  <line class="l" x1="216.6" y1="827.6" x2="323.5" y2="827.6"/>
  <line class="l" x1="270" y1="791.8" x2="270" y2="863.6"/>
  <text class="t" x="231.6" y="817" font-size="14" textLength="19.04" lengthAdjust="spacingAndGlyphs" stroke="#151515" stroke-width="0.2">8.2</text>
  <path d="M277.45,806.30 V815.90 M274.50,809.76 C275.98,809.28 277.15,807.26 277.45,806.49" stroke="#151515" stroke-width="1.45" fill="none"/><text class="t" x="280.7" y="816.7" font-size="14" textLength="39.7" lengthAdjust="spacingAndGlyphs" stroke="#151515" stroke-width="0.2">80mm</text>
  <path d="M234.9,839.4 V853.7 M230.2,843.9 C232.5,843.6 234.4,842.2 234.9,839.6" stroke="#111" stroke-width="1.95" fill="none"/><text class="t" x="240" y="853.9" font-size="20.4" textLength="10.2" lengthAdjust="spacingAndGlyphs" stroke="#151515" stroke-width="0.35">0</text>
  <text class="t" x="273.3" y="850.6" font-size="14" textLength="46.87" lengthAdjust="spacingAndGlyphs" stroke="#151515" stroke-width="0.2">350mm</text>
</g>

</svg>
</body></html>
